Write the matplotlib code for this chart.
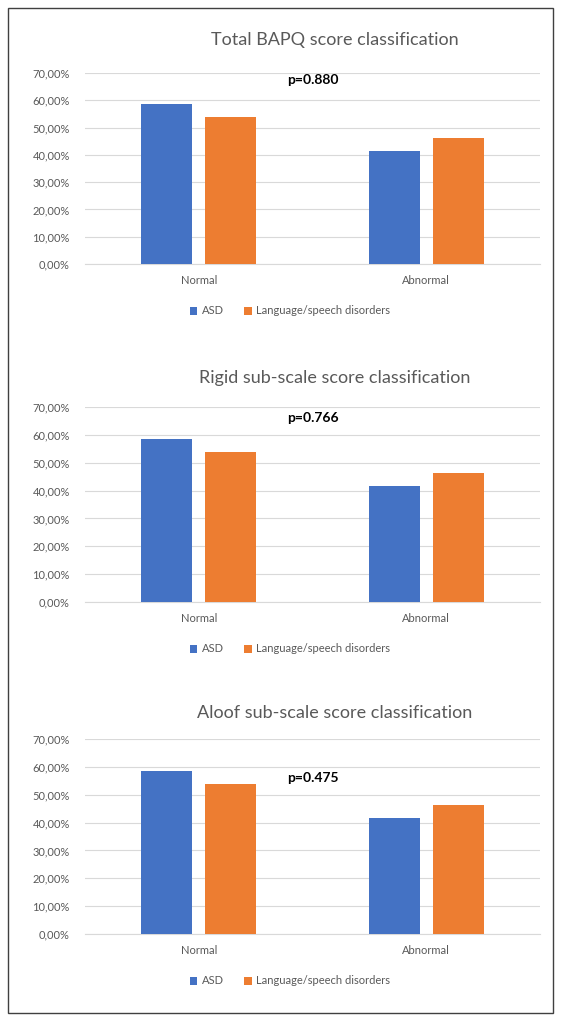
import numpy as np
import matplotlib.pyplot as plt
from matplotlib.patches import Rectangle
from matplotlib.ticker import FuncFormatter

categories = ["Normal", "Abnormal"]
series_names = ["ASD", "Language/speech disorders"]
titles = ["Total BAPQ score classification",
          "Rigid sub-scale score classification",
          "Aloof sub-scale score classification"]
asd_vals = [[0.585, 0.415], [0.585, 0.415], [0.585, 0.415]]
lsd_vals = [[0.538, 0.462], [0.538, 0.462], [0.538, 0.462]]
p_labels = ["p=0.880", "p=0.766", "p=0.475"]
p_y = [0.675, 0.66, 0.56]

BLUE = "#4472C4"
ORANGE = "#ED7D31"
GREY = "#595959"

plt.rcParams['font.family'] = ['Lato', 'DejaVu Sans']

W, H = 561, 1024
fig = plt.figure(figsize=(W / 100, H / 100), dpi=100)

# pixel layout of each panel: (title y, top of plot y, bottom of plot y)
panels = [(40, 73, 264), (378, 407, 602), (713, 739, 934)]
left, right = 85, 540

def pct(v, pos):
    return ("%.2f%%" % (v * 100)).replace(".", ",")

for i, (ty, top, bot) in enumerate(panels):
    ax = fig.add_axes([left / W, 1 - bot / H, (right - left) / W, (bot - top) / H])
    x = np.arange(len(categories))
    w = 0.225
    off = 0.141
    ax.bar(x - off, asd_vals[i], w, color=BLUE, label=series_names[0], zorder=3)
    ax.bar(x + off, lsd_vals[i], w, color=ORANGE, label=series_names[1], zorder=3)
    ax.set_xlim(-0.5, 1.5)
    ax.set_ylim(0, 0.7)
    ax.set_yticks(np.arange(0, 0.71, 0.1))
    ax.yaxis.set_major_formatter(FuncFormatter(pct))
    ax.set_xticks(x)
    ax.set_xticklabels(categories)
    ax.grid(axis="y", color="#D9D9D9", lw=0.8, zorder=0)
    for s in ax.spines.values():
        s.set_visible(False)
    ax.spines["bottom"].set_visible(True)
    ax.spines["bottom"].set_color("#D9D9D9")
    ax.tick_params(length=0, labelsize=8, colors=GREY, pad=8)
    ax.tick_params(axis="y", pad=11)
    ax.text(0.5, p_y[i], p_labels[i], transform=ax.get_yaxis_transform(),
            ha="center", va="center", fontsize=10, fontweight="bold", color="black")
    fig.text(335 / W, 1 - ty / H, titles[i], ha="center", va="center",
             fontsize=13, color=GREY)
    leg = ax.legend(loc="center", bbox_to_anchor=(0.45, -(47 / (bot - top))),
                    ncol=2, frameon=False, fontsize=8, handlelength=0.7,
                    handleheight=0.7, handletextpad=0.4, columnspacing=1.8)
    for t in leg.get_texts():
        t.set_color(GREY)

fig.patches.append(Rectangle((8 / W, 1 - 1013 / H), 545 / W, 1005 / H,
                             transform=fig.transFigure, fill=False,
                             edgecolor="#404040", lw=1))

fig.savefig("out.png", dpi=100, facecolor="white")
